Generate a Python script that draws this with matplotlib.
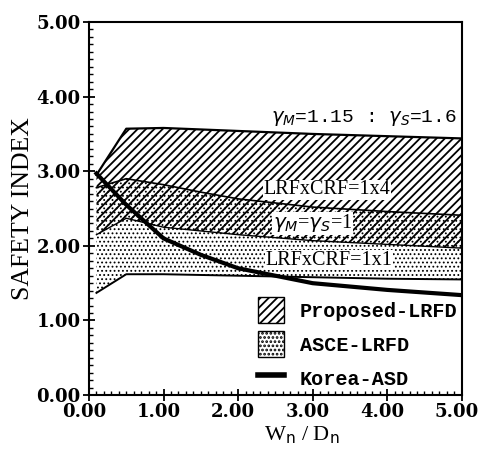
import numpy as np
import matplotlib.pyplot as plt
import matplotlib.transforms as mtransforms
from matplotlib.patches import Patch
from matplotlib.lines import Line2D
from matplotlib.ticker import MultipleLocator

plt.rcParams['hatch.linewidth'] = 1.3

# Proposed-LRFD band (hatched)
x_prop = [0.1, 0.5, 1.0, 2.0, 3.0, 4.0, 5.0]
prop_upper = [2.95, 3.57, 3.58, 3.54, 3.50, 3.47, 3.44]
prop_lower = [2.15, 2.37, 2.25, 2.15, 2.07, 2.02, 1.97]

# ASCE-LRFD band (dotted)
x_asce = [0.1, 0.5, 1.0, 1.5, 2.0, 3.0, 4.0, 5.0]
asce_upper = [2.78, 2.90, 2.82, 2.72, 2.63, 2.52, 2.46, 2.41]
asce_lower = [1.37, 1.62, 1.62, 1.61, 1.60, 1.58, 1.56, 1.55]

# Korea-ASD
x_korea = [0.1, 0.5, 1.0, 1.5, 2.0, 3.0, 4.0, 5.0]
korea = [2.97, 2.55, 2.10, 1.88, 1.70, 1.50, 1.41, 1.34]

fig = plt.figure(figsize=(4.81, 4.49), dpi=100)
ax = fig.add_axes([0.185, 0.120, 0.775, 0.831])

dots = ax.fill_between(x_asce, asce_lower, asce_upper, facecolor='white',
                       edgecolor='black', hatch='....', linewidth=0)
dots.set_hatch_linewidth(0.8)
ax.fill_between(x_prop, prop_lower, prop_upper, facecolor='none',
                edgecolor='black', hatch='////', linewidth=0)

ax.plot(x_prop, prop_upper, color='black', lw=1.6)
ax.plot(x_prop, prop_lower, color='black', lw=1.0)
ax.plot(x_asce, asce_upper, color='black', lw=1.2)
ax.plot(x_asce, asce_lower, color='black', lw=1.4)
ax.plot(x_korea, korea, color='black', lw=3.0, zorder=3)

lab = dict(fontsize=14.5, family='Liberation Serif', ha='center', va='center',
           bbox=dict(facecolor='white', edgecolor='none', pad=0.5), zorder=2.8)
ax.text(3.19, 2.75, 'LRFxCRF=1x4', **lab)
ax.text(3.0, 2.30, r'$\gamma_M$=$\gamma_S$=1', **lab)
ax.text(3.22, 1.81, 'LRFxCRF=1x1', **lab)
ax.text(4.93, 3.72, r'$\gamma_M$=1.15 : $\gamma_S$=1.6', fontsize=14,
        family='Liberation Mono', ha='right', va='center')

asce_patch = Patch(facecolor='white', edgecolor='black', hatch='....')
asce_patch.set_hatch_linewidth(0.8)
handles = [Patch(facecolor='white', edgecolor='black', hatch='////'),
           asce_patch,
           Line2D([0], [0], color='black', lw=4)]
labels = ['Proposed-LRFD', 'ASCE-LRFD', 'Korea-ASD']
ax.legend(handles, labels, loc='lower right', frameon=False,
          borderaxespad=0.1, borderpad=0.1,
          handlelength=1.3, handleheight=1.6, handletextpad=0.8,
          labelspacing=0.4,
          prop=dict(family='Liberation Mono', size=14.5, weight='bold'))

ax.set_xlim(0, 5)
ax.set_ylim(0, 5)
ax.xaxis.set_major_locator(MultipleLocator(1))
ax.yaxis.set_major_locator(MultipleLocator(1))
ax.xaxis.set_minor_locator(MultipleLocator(0.1))
ax.yaxis.set_minor_locator(MultipleLocator(0.1))
ax.xaxis.set_major_formatter(lambda v, p: f'{v:.2f}')
ax.yaxis.set_major_formatter(lambda v, p: f'{v:.2f}')
ax.tick_params(which='major', direction='inout', length=8, width=1.3,
               labelsize=13, pad=2)
ax.tick_params(which='minor', direction='in', length=3, width=1)
shift = mtransforms.ScaledTranslation(-5 / 100, 0, fig.dpi_scale_trans)
for t in ax.get_xticklabels():
    t.set_transform(t.get_transform() + shift)
for t in ax.get_xticklabels() + ax.get_yticklabels():
    t.set_family('DejaVu Serif')
    t.set_weight('bold')
for s in ax.spines.values():
    s.set_linewidth(1.5)

ax.set_xlabel(r'W$_\mathrm{n}$ / D$_\mathrm{n}$', fontsize=16,
              family='Liberation Serif', labelpad=2, x=0.57)
ax.set_ylabel('SAFETY INDEX', fontsize=18.5, family='Liberation Serif',
              labelpad=2)

fig.savefig('out.png', dpi=100)
